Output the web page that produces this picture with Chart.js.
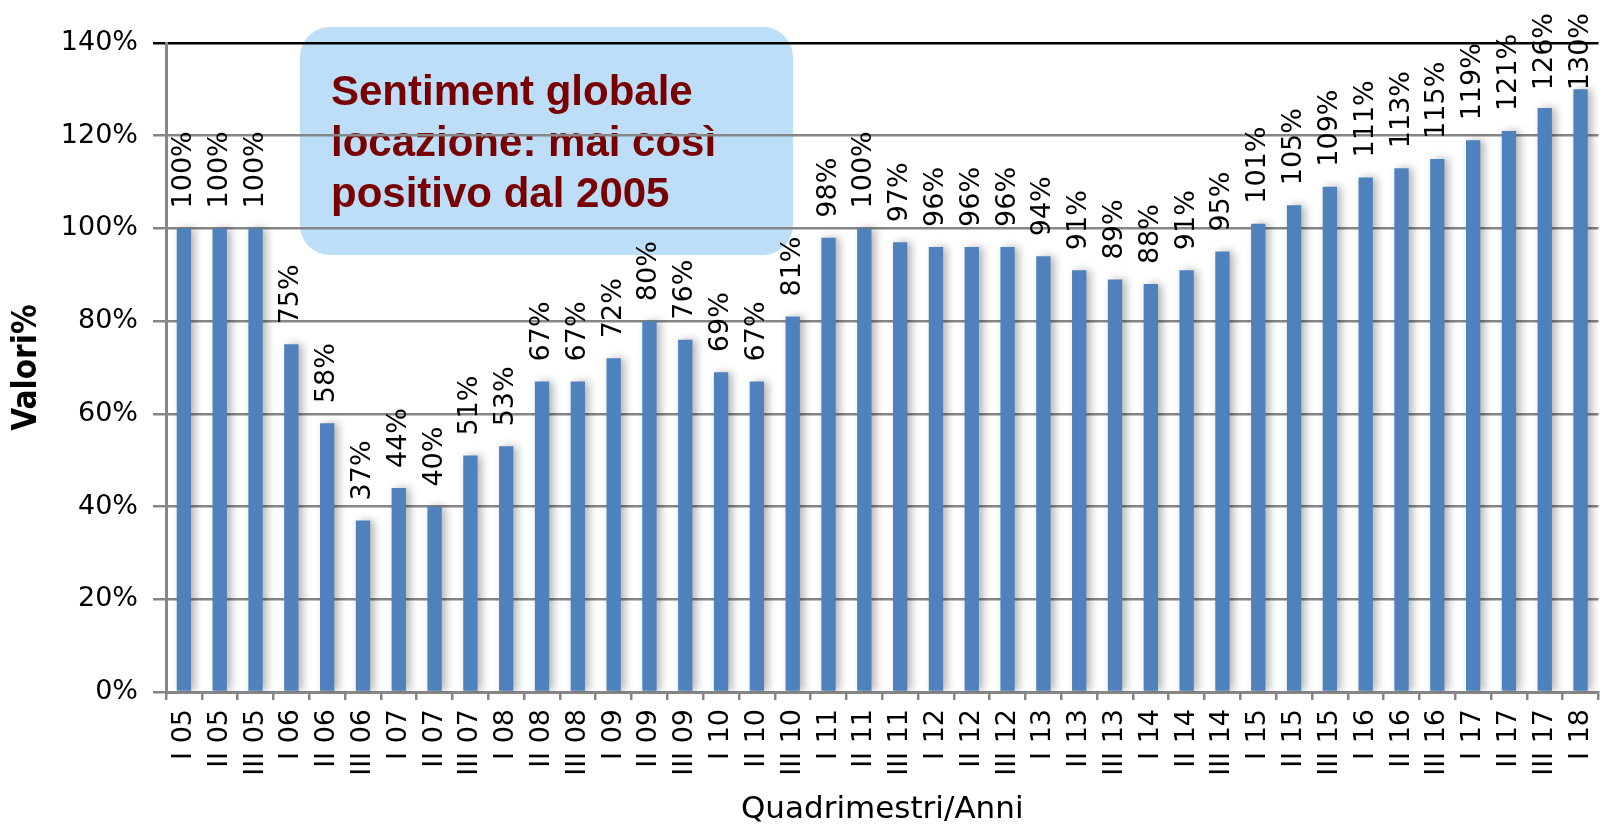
<!DOCTYPE html>
<html>
<head>
<meta charset="utf-8">
<script src="https://cdn.jsdelivr.net/npm/chart.js@4/dist/chart.umd.min.js"></script>
<style>
  body { margin: 0; background: #fff; overflow: hidden; }
</style>
</head>
<body>
<canvas id="myChart" width="1622" height="826"></canvas>
<script>
// categories (quadrimestre + anno)
let labelsArray = ['I 05', 'II 05', 'III 05', 'I 06', 'II 06', 'III 06', 'I 07', 'II 07', 'III 07',
  'I 08', 'II 08', 'III 08', 'I 09', 'II 09', 'III 09', 'I 10', 'II 10', 'III 10',
  'I 11', 'II 11', 'III 11', 'I 12', 'II 12', 'III 12', 'I 13', 'II 13', 'III 13',
  'I 14', 'II 14', 'III 14', 'I 15', 'II 15', 'III 15', 'I 16', 'II 16', 'III 16',
  'I 17', 'II 17', 'III 17', 'I 18'];
// sentiment values in %
let sentimentData = [100, 100, 100, 75, 58, 37, 44, 40, 51, 53, 67, 67, 72, 80, 76, 69, 67, 81,
  98, 100, 97, 96, 96, 96, 94, 91, 89, 88, 91, 95, 101, 105, 109, 111, 113, 115, 119, 121, 126, 130];
let yTicks = [0, 20, 40, 60, 80, 100, 120, 140];
let boxLines = ['Sentiment globale', 'locazione: mai così', 'positivo dal 2005'];

const tickFont = { family: 'DejaVu Sans', size: 27 };

// light blue rounded box with the headline, drawn under the grid
const boxPlugin = {
  id: 'boxPlugin',
  beforeDraw(chart) {
    const c = chart.ctx;
    c.save();
    c.fillStyle = '#BDDEF8';
    c.beginPath();
    c.roundRect(300, 27, 493, 228, 30);
    c.fill();
    c.fillStyle = '#780000';
    c.font = 'bold 42px "Liberation Sans", Arial, sans-serif';
    c.textBaseline = 'alphabetic';
    boxLines.forEach((t, i) => c.fillText(t, 331, 105 + i * 51));
    c.restore();
  }
};

// soft shadow behind the bars
const shadowPlugin = {
  id: 'shadowPlugin',
  beforeDatasetsDraw(chart) {
    const c = chart.ctx;
    c.save();
    c.shadowColor = 'rgba(0,0,0,0.3)';
    c.shadowBlur = 9;
    c.shadowOffsetX = 4;
  },
  afterDatasetsDraw(chart) {
    chart.ctx.restore();
  }
};

// rotated value labels above each bar
const valuePlugin = {
  id: 'valuePlugin',
  afterDatasetsDraw(chart) {
    const c = chart.ctx;
    const meta = chart.getDatasetMeta(0);
    c.save();
    c.font = '27px "DejaVu Sans"';
    c.fillStyle = '#000';
    c.textAlign = 'left';
    c.textBaseline = 'middle';
    meta.data.forEach((bar, i) => {
      const txt = sentimentData[i] + '%';
      const w = c.measureText(txt).width;
      let start = bar.y - 20;
      if (start - w < 13) start = 13 + w;
      c.save();
      c.translate(bar.x, start);
      c.rotate(-Math.PI / 2);
      c.fillText(txt, 0, 0);
      c.restore();
    });
    c.restore();
  }
};

const ctx = document.getElementById('myChart');
let chart = new Chart(ctx, {
  type: 'bar',
  data: {
    labels: labelsArray,
    datasets: [{
      label: 'Sentiment',
      data: sentimentData,
      backgroundColor: '#4F81BD',
      borderWidth: 0,
      barPercentage: 0.4,
      categoryPercentage: 1
    }]
  },
  options: {
    responsive: false,
    animation: false,
    layout: { padding: { top: 43, right: 3, left: 0, bottom: 0 } },
    plugins: {
      legend: { display: false },
      tooltip: { enabled: false }
    },
    scales: {
      x: {
        afterFit: s => { s.height = 134; },
        grid: {
          offset: true,
          drawOnChartArea: false,
          tickLength: 8,
          color: '#868686',
          lineWidth: 2.5
        },
        border: { color: '#868686', width: 3 },
        ticks: {
          autoSkip: false,
          maxRotation: 90,
          minRotation: 90,
          padding: 9,
          color: '#000',
          font: tickFont
        },
        title: {
          display: true,
          text: 'Quadrimestri/Anni',
          color: '#000',
          font: { family: 'DejaVu Sans', size: 31, lineHeight: 1 },
          padding: { top: 0, bottom: 1 }
        }
      },
      y: {
        min: 0,
        max: 140,
        afterFit: s => { s.width = 166; },
        afterBuildTicks: s => { s.ticks = yTicks.map(v => ({ value: v })); },
        grid: {
          tickLength: 13,
          lineWidth: 2.5,
          color: c => (c.tick && c.tick.value === 140 ? '#000' : '#868686')
        },
        border: { color: '#868686', width: 3 },
        ticks: {
          padding: 15,
          color: '#000',
          font: tickFont,
          callback: v => v + '%'
        },
        title: {
          display: true,
          text: 'Valori%',
          color: '#000',
          font: { family: '"Liberation Sans Narrow", "DejaVu Sans Condensed", "DejaVu Sans"', size: 33, weight: 'bold', lineHeight: 1 },
          padding: { top: 11, bottom: 0 }
        }
      }
    }
  },
  plugins: [boxPlugin, shadowPlugin, valuePlugin]
});
</script>
</body>
</html>
